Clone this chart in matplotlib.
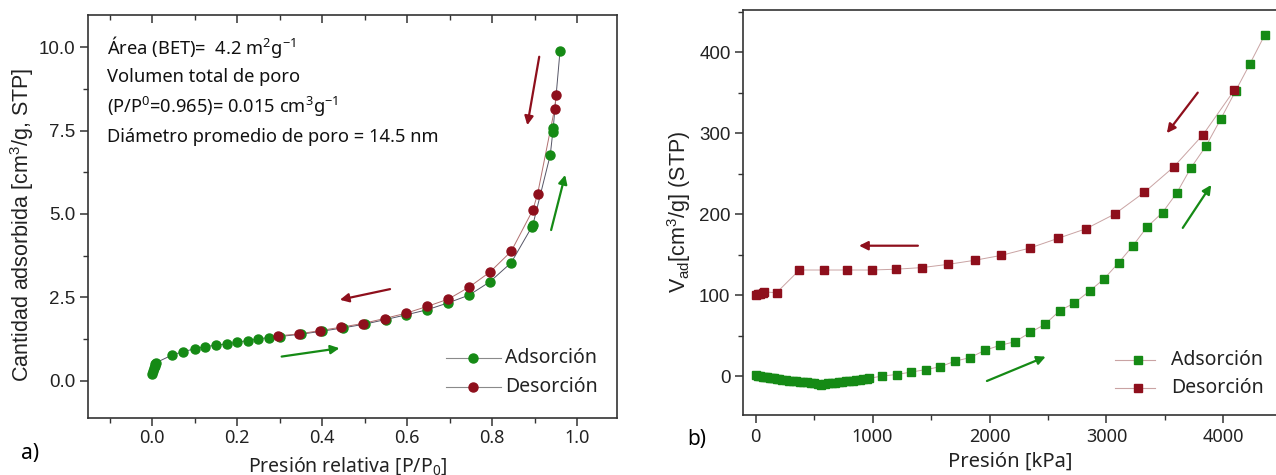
import matplotlib
matplotlib.use('Agg')
from matplotlib import pyplot as plt
from matplotlib.ticker import MultipleLocator

# panel a) relative pressure isotherm
ads_a_x = [0.001, 0.002, 0.004, 0.006, 0.008, 0.010, 0.048, 0.074, 0.100, 0.125, 0.151, 0.176,
           0.201, 0.225, 0.250, 0.275, 0.300, 0.350, 0.400, 0.450, 0.500, 0.550, 0.598, 0.647,
           0.697, 0.746, 0.795, 0.845, 0.893, 0.896, 0.937, 0.943, 0.944, 0.960]
ads_a_y = [0.22, 0.30, 0.38, 0.45, 0.50, 0.55, 0.78, 0.88, 0.96, 1.03, 1.07, 1.11,
           1.16, 1.21, 1.26, 1.30, 1.33, 1.40, 1.49, 1.59, 1.70, 1.84, 1.98, 2.13,
           2.34, 2.57, 2.97, 3.54, 4.60, 4.67, 6.77, 7.46, 7.58, 9.89]
des_a_x = [0.951, 0.947, 0.907, 0.896, 0.845, 0.795, 0.746, 0.697, 0.647, 0.598, 0.547,
           0.496, 0.445, 0.396, 0.347, 0.297]
des_a_y = [8.56, 8.14, 5.59, 5.12, 3.88, 3.26, 2.81, 2.45, 2.23, 2.03, 1.87,
           1.72, 1.61, 1.51, 1.41, 1.35]

# panel b) absolute pressure isotherm (kPa)
ads_b_x = [0, 20, 40, 60, 80, 100, 120, 140, 160, 180, 200, 230, 260, 290, 320, 350, 380,
           410, 440, 470, 500, 530, 560, 590, 620, 650, 680, 710, 740, 770, 800, 830, 860,
           890, 920, 950, 970,
           1078, 1206, 1329, 1455, 1577, 1705, 1833, 1962, 2090, 2218, 2349, 2474, 2602,
           2723, 2855, 2979, 3104, 3226, 3346, 3479, 3600, 3721, 3850, 3979, 4103, 4224, 4352]
ads_b_y = [1, 0.5, 0, -0.5, -1, -1.5, -2, -2.3, -2.8, -3, -3.5, -4.2, -5, -5.5, -6, -6.3, -6.8,
           -7.5, -7.8, -8.5, -9, -9.8, -10.5, -9.2, -8.5, -8.8, -8.2, -7.5, -7, -6.5, -6, -5.5, -5,
           -4.5, -4, -3.3, -2.8,
           0, 2, 5, 8, 11.5, 18.5, 22.8, 32, 38, 42.5, 54, 64, 81,
           90, 105, 120, 140, 161, 184, 202, 226, 257, 284, 318, 352, 385, 421]
des_b_x = [4092, 3825, 3573, 3324, 3069, 2826, 2584, 2342, 2099, 1873, 1648, 1423, 1204,
           996, 781, 584, 375, 180, 70, 60, 40, 20, 0]
des_b_y = [353, 298, 258, 227, 200, 182, 170, 158, 149, 143, 138, 134, 132,
           131, 131, 131, 131, 103, 104, 103, 102, 101, 100]

legend_names = ['Adsorción', 'Desorción']
info = ['Área (BET)=  4.2 m$^2$g$^{-1}$',
        'Volumen total de poro',
        '(P/P$^0$=0.965)= 0.015 cm$^3$g$^{-1}$',
        'Diámetro promedio de poro = 14.5 nm']

W, H = 1276, 475
GREEN = '#158a15'
RED = '#8e0f1c'
tick_font = 'Liberation Sans'
txt_font = 'Noto Sans'


def fx(px):
    return px / W


def fy(py):
    return 1 - py / H


plt.rcParams['mathtext.default'] = 'regular'
fig = plt.figure(figsize=(W / 100, H / 100), dpi=100)


def style_axes(ax, xpad):
    for s in ax.spines.values():
        s.set_color('#333333')
        s.set_linewidth(1.2)
    ax.tick_params(which='major', direction='out', length=6, width=1.1, color='#333333',
                   labelcolor='#222222')
    ax.tick_params(which='minor', direction='out', length=3.5, width=1.0, color='#333333')
    ax.tick_params(axis='x', labelsize=13, pad=xpad)
    ax.tick_params(axis='y', labelsize=13.5, pad=3)
    for lab in ax.get_xticklabels():
        lab.set_fontfamily(txt_font)
    for lab in ax.get_yticklabels():
        lab.set_fontfamily(tick_font)


# ---------------- panel a ----------------
ax1 = fig.add_axes([fx(88), fy(418), fx(617 - 88), (418 - 15) / H])
ax1.plot(ads_a_x, ads_a_y, '-', color='#555566', lw=0.7, zorder=2)
ax1.plot(des_a_x, des_a_y, '-', color='#b07070', lw=0.7, zorder=2)
ax1.plot(ads_a_x, ads_a_y, 'o', color=GREEN, ms=6.5, mec=GREEN, zorder=3)
ax1.plot(des_a_x, des_a_y, 'o', color=RED, ms=6.5, mec=RED, zorder=4)
ax1.set_xlim(-0.1506, 1.094)
ax1.set_ylim(-1.11, 10.96)
ax1.set_xticks([0.0, 0.2, 0.4, 0.6, 0.8, 1.0])
ax1.set_xticklabels(['0.0', '0.2', '0.4', '0.6', '0.8', '1.0'])
ax1.xaxis.set_minor_locator(MultipleLocator(0.1))
ax1.yaxis.set_major_locator(MultipleLocator(2.5))
ax1.yaxis.set_minor_locator(MultipleLocator(1.25))
style_axes(ax1, 2)

# mirrored ticks on the top edge, pointing inwards
top = ax1.secondary_xaxis('top')
top.set_xticks([0.0, 0.2, 0.4, 0.6, 0.8, 1.0])
top.xaxis.set_minor_locator(MultipleLocator(0.1))
top.tick_params(which='major', direction='in', length=6, width=1.1, color='#333333',
                labeltop=False)
top.tick_params(which='minor', direction='in', length=3.5, width=1.0, color='#333333')
top.spines['top'].set_visible(False)

# arrows
arr = dict(arrowstyle='-|>', lw=1.6, mutation_scale=13, shrinkA=0, shrinkB=0)
ax1.annotate('', xy=(0.883, 7.66), xytext=(0.911, 9.71), arrowprops=dict(arr, color=RED))
ax1.annotate('', xy=(0.972, 6.17), xytext=(0.939, 4.52), arrowprops=dict(arr, color=GREEN))
ax1.annotate('', xy=(0.442, 2.43), xytext=(0.56, 2.75), arrowprops=dict(arr, color=RED))
ax1.annotate('', xy=(0.441, 0.98), xytext=(0.305, 0.73), arrowprops=dict(arr, color=GREEN))

# ---------------- panel b ----------------
ax2 = fig.add_axes([fx(743), fy(415), fx(1278 - 743), (415 - 10) / H])
ax2.plot(ads_b_x, ads_b_y, '-', color='#c9a3a3', lw=0.7, zorder=2)
ax2.plot(des_b_x, des_b_y, '-', color='#c9a3a3', lw=0.7, zorder=2)
ax2.plot(ads_b_x, ads_b_y, 's', color=GREEN, ms=5.2, mec=GREEN, zorder=3)
ax2.plot(des_b_x, des_b_y, 's', color=RED, ms=5.2, mec=RED, zorder=4)
ax2.set_xlim(-107, 4466)
ax2.set_ylim(-48, 452)
ax2.xaxis.set_major_locator(MultipleLocator(1000))
ax2.xaxis.set_minor_locator(MultipleLocator(500))
ax2.yaxis.set_major_locator(MultipleLocator(100))
ax2.yaxis.set_minor_locator(MultipleLocator(50))
style_axes(ax2, 3)

ax2.annotate('', xy=(3516, 300), xytext=(3780, 350), arrowprops=dict(arr, color=RED))
ax2.annotate('', xy=(3895, 236), xytext=(3652, 183), arrowprops=dict(arr, color=GREEN))
ax2.annotate('', xy=(885, 161), xytext=(1388, 161), arrowprops=dict(arr, color=RED))
ax2.annotate('', xy=(2480, 24), xytext=(1978, -6), arrowprops=dict(arr, color=GREEN))

# ---------------- labels ----------------
fig.text(fx(22), fy(225), 'Cantidad adsorbida [cm$^3$/g, STP]', rotation=90, ha='center',
         va='center', fontsize=15.5, family=tick_font, color='#222222')
fig.text(fx(348), fy(472), 'Presión relativa [P/P$_0$]', ha='center', va='baseline',
         fontsize=14, family=txt_font, color='#222222')
fig.text(fx(679), fy(212), 'V$_{ad}$[cm$^3$/g] (STP)', rotation=90, ha='center',
         va='center', fontsize=15.5, family=tick_font, color='#222222')
fig.text(fx(1010), fy(467), 'Presión [kPa]', ha='center', va='baseline',
         fontsize=14.5, family=txt_font, color='#222222')
fig.text(fx(30), fy(453), 'a)', ha='center', va='center', fontsize=15, family=txt_font)
fig.text(fx(697), fy(440), 'b)', ha='center', va='center', fontsize=15, family=txt_font)

for i, line in enumerate(info):
    fig.text(fx(107), fy(47 + 30 * i), line, ha='left', va='center', fontsize=13.2,
             family=txt_font, color='#111111')

# hand-placed legends (line - marker - line, then name)
colors = [GREEN, RED]
legend_specs = [(446, 501, 473, 505, 'o', 6.5, '#8a8a8a', (358, 387)),
                (1115, 1155, 1138, 1171, 's', 5.2, '#c9a3a3', (360, 388))]
for l0, l1, mx, tx, mk, ms, lc, rows_y in legend_specs:
    for name, col, yy in zip(legend_names, colors, rows_y):
        fig.add_artist(plt.Line2D([fx(l0), fx(l1)], [fy(yy), fy(yy)], color=lc, lw=0.8,
                                  transform=fig.transFigure))
        fig.add_artist(plt.Line2D([fx(mx)], [fy(yy)], marker=mk, ms=ms, color=col,
                                  transform=fig.transFigure))
        fig.text(fx(tx), fy(yy), name, ha='left', va='center', fontsize=14,
                 family=txt_font, color='#222222')

plt.savefig('out.png', dpi=100)
